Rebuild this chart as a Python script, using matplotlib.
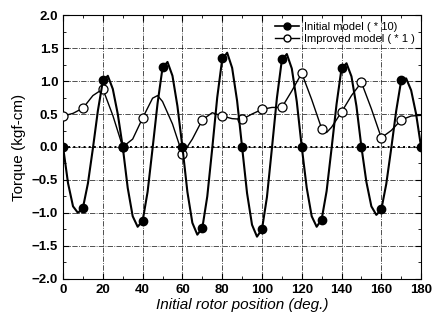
import numpy as np
import matplotlib
matplotlib.use('Agg')
import matplotlib.pyplot as plt
from matplotlib.ticker import MultipleLocator
from matplotlib.lines import Line2D

# Initial model (* 10): markers every 10 deg
init_pts_x = [0, 10, 20, 30, 40, 50, 60, 70, 80, 90, 100, 110, 120, 130, 140, 150, 160, 170, 180]
init_pts_y = [0.0, -0.92, 1.02, 0.0, -1.12, 1.21, 0.0, -1.23, 1.35, 0.0, -1.25, 1.33, 0.0, -1.10, 1.20, 0.0, -0.94, 1.02, 0.0]

# Initial model curve, read every 2.5 deg
init_curve_x = [i * 2.5 for i in range(73)]
init_curve_y = [0.0, -0.55, -0.90, -1.00, -0.92, -0.55, -0.02, 0.55, 1.00, 1.08, 0.88, 0.50,
                0.0, -0.62, -1.05, -1.21, -1.12, -0.68, -0.02, 0.66, 1.20, 1.29, 1.08, 0.62,
                0.0, -0.68, -1.15, -1.33, -1.23, -0.75, -0.02, 0.75, 1.33, 1.43, 1.20, 0.70,
                0.0, -0.70, -1.18, -1.36, -1.25, -0.76, -0.02, 0.74, 1.32, 1.41, 1.19, 0.69,
                0.0, -0.62, -1.05, -1.21, -1.10, -0.67, -0.02, 0.65, 1.19, 1.27, 1.07, 0.62,
                0.0, -0.53, -0.90, -1.03, -0.95, -0.56, -0.02, 0.55, 1.01, 1.04, 0.86, 0.50,
                0.0]

# Improved model (* 1): markers
impr_pts_x = [0, 10, 20, 30, 40, 60, 70, 80, 90, 100, 110, 120, 130, 140, 150, 160, 170]
impr_pts_y = [0.47, 0.59, 0.88, 0.0, 0.44, -0.11, 0.41, 0.47, 0.42, 0.57, 0.60, 1.12, 0.28, 0.53, 0.98, 0.14, 0.41]

# Improved model curve
impr_curve_x = [0, 5, 10, 15, 20, 25, 30, 35, 40, 45, 47.5, 50, 55, 60, 65, 70, 75, 80, 85, 90,
                95, 100, 105, 110, 115, 120, 125, 130, 132.5, 135, 140, 145, 150, 155, 160,
                165, 170, 175, 180]
impr_curve_y = [0.47, 0.51, 0.59, 0.78, 0.88, 0.48, 0.00, 0.12, 0.44, 0.74, 0.78, 0.69, 0.35,
                -0.11, 0.12, 0.41, 0.52, 0.47, 0.43, 0.42, 0.50, 0.57, 0.60, 0.60, 0.85, 1.12,
                0.72, 0.28, 0.22, 0.30, 0.53, 0.78, 0.98, 0.58, 0.14, 0.25, 0.41, 0.47, 0.48]

plt.rcParams['font.family'] = ['Liberation Sans', 'DejaVu Sans']

fig = plt.figure(figsize=(4.35, 3.22), dpi=100)
ax = fig.add_axes([0.145, 0.134, 0.823, 0.819])

# grid and zero line
ax.grid(True, which='major', color='black', linestyle='-.', linewidth=0.6, alpha=0.8)
ax.axhline(0, color='black', linestyle=':', linewidth=1.4, zorder=1)

ax.plot(impr_curve_x, impr_curve_y, color='black', linewidth=1.0, zorder=2)
ax.plot(impr_pts_x, impr_pts_y, linestyle='none', marker='o', markersize=6.5,
        markerfacecolor='white', markeredgecolor='black', markeredgewidth=0.9, zorder=3)
ax.plot(init_curve_x, init_curve_y, color='black', linewidth=1.5, zorder=4)
ax.plot(init_pts_x, init_pts_y, linestyle='none', marker='o', markersize=6,
        color='black', zorder=5)

ax.set_xlim(0, 180)
ax.set_ylim(-2.0, 2.0)
ax.xaxis.set_major_locator(MultipleLocator(20))
ax.xaxis.set_minor_locator(MultipleLocator(10))
ax.yaxis.set_major_locator(MultipleLocator(0.5))
ax.yaxis.set_minor_locator(MultipleLocator(0.25))
ax.tick_params(which='both', direction='in', top=True, right=True)
ax.tick_params(which='major', length=4, labelsize=9.5)
ax.tick_params(which='minor', length=2)
for lab in ax.get_xticklabels() + ax.get_yticklabels():
    lab.set_fontweight('bold')

ax.set_xlabel('Initial rotor position (deg.)', fontsize=11, style='italic', labelpad=2)
ax.set_ylabel('Torque (kgf-cm)', fontsize=11, labelpad=4)

handles = [Line2D([], [], color='black', linewidth=1.2, marker='o', markersize=5),
           Line2D([], [], color='black', linewidth=1.0, marker='o', markersize=5,
                  markerfacecolor='white')]
ax.legend(handles, ['Initial model ( * 10)', 'Improved model ( * 1 )'], loc='upper right',
          frameon=False, fontsize=8, handlelength=2.2, borderaxespad=0.2,
          labelspacing=0.2, handletextpad=0.4)

fig.savefig('out.png', dpi=100)
